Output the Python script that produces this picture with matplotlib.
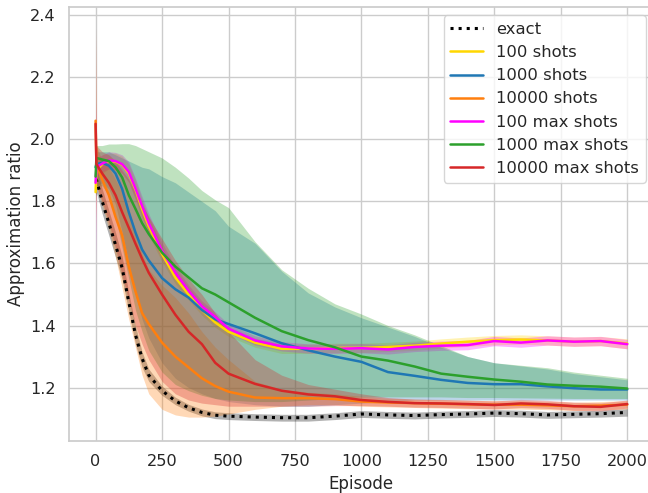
import matplotlib
matplotlib.use("Agg")
import matplotlib.pyplot as plt
import seaborn as sns
import numpy as np

sns.set_theme(style="whitegrid")
plt.rcParams["font.family"] = ["DejaVu Sans"]

# Episode checkpoints shared by every run
episodes = [0, 3, 25, 50, 75, 100, 125, 150, 175, 200, 250, 300, 350, 400, 450,
            500, 600, 700, 800, 900, 1000, 1100, 1200, 1300, 1400, 1500, 1600,
            1700, 1800, 1900, 2000]

labels = ["exact", "100 shots", "1000 shots", "10000 shots",
          "100 max shots", "1000 max shots", "10000 max shots"]
colors = ["black", "#FFD700", "#1f77b4", "#ff7f0e", "#FF00FF", "#2ca02c", "#d62728"]

# Mean approximation ratio per run
exact_mean = [1.87, 1.87, 1.80, 1.73, 1.66, 1.585, 1.475, 1.37, 1.294, 1.24, 1.19, 1.157,
              1.135, 1.12, 1.111, 1.108, 1.105, 1.103, 1.103, 1.108, 1.115, 1.112, 1.110,
              1.113, 1.115, 1.118, 1.116, 1.112, 1.114, 1.116, 1.120]
s100_mean = [1.83, 1.90, 1.92, 1.93, 1.928, 1.918, 1.89, 1.838, 1.775, 1.72, 1.63, 1.555,
             1.50, 1.45, 1.41, 1.38, 1.345, 1.325, 1.325, 1.328, 1.328, 1.331, 1.335,
             1.342, 1.348, 1.353, 1.355, 1.352, 1.348, 1.350, 1.342]
s1000_mean = [1.91, 1.92, 1.925, 1.915, 1.89, 1.84, 1.765, 1.70, 1.645, 1.61, 1.553, 1.517,
              1.49, 1.45, 1.42, 1.405, 1.375, 1.343, 1.32, 1.30, 1.283, 1.25, 1.238,
              1.225, 1.215, 1.211, 1.211, 1.204, 1.198, 1.194, 1.194]
s10000_mean = [2.06, 1.92, 1.87, 1.82, 1.75, 1.69, 1.59, 1.51, 1.44, 1.405, 1.345, 1.30,
               1.265, 1.23, 1.205, 1.187, 1.168, 1.166, 1.166, 1.163, 1.155, 1.152, 1.150,
               1.148, 1.146, 1.145, 1.145, 1.143, 1.140, 1.142, 1.145]
m100_mean = [1.86, 1.91, 1.922, 1.932, 1.93, 1.92, 1.895, 1.842, 1.785, 1.73, 1.641, 1.57,
             1.512, 1.462, 1.428, 1.39, 1.352, 1.333, 1.326, 1.325, 1.327, 1.323, 1.331,
             1.335, 1.337, 1.350, 1.345, 1.352, 1.348, 1.350, 1.340]
m1000_mean = [1.88, 1.94, 1.935, 1.93, 1.91, 1.877, 1.82, 1.776, 1.73, 1.695, 1.635, 1.59,
              1.555, 1.52, 1.50, 1.475, 1.425, 1.382, 1.353, 1.33, 1.30, 1.287, 1.268,
              1.245, 1.235, 1.226, 1.219, 1.210, 1.206, 1.203, 1.197]
m10000_mean = [2.05, 1.92, 1.89, 1.86, 1.82, 1.765, 1.715, 1.664, 1.615, 1.57, 1.50, 1.435,
               1.38, 1.34, 1.28, 1.245, 1.212, 1.19, 1.178, 1.172, 1.160, 1.154, 1.150,
               1.149, 1.147, 1.144, 1.149, 1.146, 1.140, 1.138, 1.147]

# Lower / upper edges of the shaded spread
exact_lo = [1.82, 1.83, 1.76, 1.69, 1.62, 1.548, 1.445, 1.34, 1.265, 1.22, 1.175, 1.145,
            1.124, 1.109, 1.100, 1.097, 1.094, 1.092, 1.092, 1.097, 1.104, 1.101, 1.099,
            1.102, 1.104, 1.107, 1.105, 1.101, 1.103, 1.105, 1.108]
exact_hi = [1.92, 1.91, 1.84, 1.77, 1.70, 1.622, 1.505, 1.40, 1.315, 1.26, 1.205, 1.169,
            1.146, 1.131, 1.122, 1.119, 1.116, 1.114, 1.114, 1.119, 1.126, 1.123, 1.121,
            1.124, 1.126, 1.129, 1.127, 1.123, 1.125, 1.127, 1.132]
s100_lo = [1.70, 1.87, 1.89, 1.905, 1.90, 1.89, 1.86, 1.805, 1.745, 1.69, 1.605, 1.535,
           1.482, 1.433, 1.394, 1.365, 1.330, 1.310, 1.310, 1.313, 1.313, 1.316, 1.320,
           1.327, 1.333, 1.338, 1.340, 1.337, 1.333, 1.335, 1.325]
s100_hi = [1.96, 1.93, 1.95, 1.955, 1.955, 1.945, 1.92, 1.87, 1.805, 1.75, 1.655, 1.575,
           1.518, 1.467, 1.426, 1.395, 1.360, 1.340, 1.340, 1.343, 1.343, 1.346, 1.350,
           1.357, 1.363, 1.368, 1.370, 1.367, 1.363, 1.365, 1.357]
s1000_lo = [1.80, 1.85, 1.86, 1.84, 1.79, 1.70, 1.60, 1.50, 1.42, 1.36, 1.28, 1.23,
            1.20, 1.18, 1.165, 1.155, 1.145, 1.14, 1.14, 1.145, 1.15, 1.155, 1.16,
            1.16, 1.16, 1.16, 1.16, 1.16, 1.16, 1.16, 1.16]
s1000_hi = [1.98, 1.96, 1.96, 1.96, 1.95, 1.94, 1.93, 1.92, 1.91, 1.905, 1.88, 1.86,
            1.83, 1.80, 1.77, 1.72, 1.665, 1.575, 1.505, 1.46, 1.425, 1.395, 1.365,
            1.33, 1.30, 1.28, 1.27, 1.26, 1.245, 1.235, 1.225]
s10000_lo = [1.75, 1.85, 1.79, 1.71, 1.62, 1.52, 1.42, 1.33, 1.24, 1.18, 1.13, 1.112,
             1.105, 1.105, 1.108, 1.115, 1.13, 1.14, 1.145, 1.145, 1.14, 1.138, 1.136,
             1.134, 1.132, 1.131, 1.131, 1.129, 1.126, 1.128, 1.131]
s10000_hi = [2.36, 1.98, 1.93, 1.91, 1.87, 1.83, 1.77, 1.70, 1.63, 1.58, 1.53, 1.49,
             1.44, 1.38, 1.33, 1.29, 1.22, 1.195, 1.185, 1.18, 1.172, 1.166, 1.163,
             1.161, 1.159, 1.158, 1.158, 1.156, 1.153, 1.155, 1.158]
m100_lo = [1.60, 1.88, 1.895, 1.905, 1.902, 1.89, 1.863, 1.81, 1.755, 1.70, 1.615, 1.55,
           1.494, 1.445, 1.412, 1.375, 1.337, 1.318, 1.311, 1.310, 1.312, 1.308, 1.316,
           1.320, 1.322, 1.335, 1.330, 1.337, 1.333, 1.335, 1.325]
m100_hi = [2.12, 1.94, 1.95, 1.96, 1.958, 1.95, 1.927, 1.874, 1.815, 1.76, 1.667, 1.59,
           1.530, 1.479, 1.444, 1.405, 1.367, 1.348, 1.341, 1.340, 1.342, 1.338, 1.346,
           1.350, 1.352, 1.365, 1.360, 1.367, 1.363, 1.365, 1.355]
m1000_lo = [1.80, 1.85, 1.85, 1.82, 1.75, 1.65, 1.55, 1.45, 1.38, 1.32, 1.25, 1.21,
            1.19, 1.175, 1.165, 1.16, 1.155, 1.155, 1.16, 1.165, 1.17, 1.17, 1.17,
            1.17, 1.168, 1.168, 1.167, 1.166, 1.165, 1.165, 1.165]
m1000_hi = [1.96, 1.98, 1.98, 1.985, 1.985, 1.986, 1.986, 1.98, 1.97, 1.96, 1.94, 1.91,
            1.875, 1.835, 1.805, 1.78, 1.67, 1.58, 1.52, 1.47, 1.437, 1.40, 1.37,
            1.335, 1.30, 1.28, 1.272, 1.264, 1.25, 1.24, 1.23]
m10000_lo = [1.85, 1.85, 1.80, 1.73, 1.65, 1.56, 1.48, 1.40, 1.34, 1.29, 1.22, 1.18,
             1.16, 1.15, 1.145, 1.14, 1.14, 1.14, 1.14, 1.142, 1.142, 1.140, 1.137,
             1.136, 1.134, 1.131, 1.136, 1.133, 1.127, 1.125, 1.134]
m10000_hi = [2.36, 1.98, 1.96, 1.95, 1.93, 1.90, 1.87, 1.83, 1.79, 1.75, 1.68, 1.61,
             1.55, 1.50, 1.44, 1.38, 1.29, 1.24, 1.21, 1.195, 1.18, 1.168, 1.163,
             1.162, 1.160, 1.157, 1.162, 1.159, 1.153, 1.151, 1.160]

means = [exact_mean, s100_mean, s1000_mean, s10000_mean, m100_mean, m1000_mean, m10000_mean]
lows = [exact_lo, s100_lo, s1000_lo, s10000_lo, m100_lo, m1000_lo, m10000_lo]
highs = [exact_hi, s100_hi, s1000_hi, s10000_hi, m100_hi, m1000_hi, m10000_hi]

fig = plt.figure(figsize=(6.48, 4.93), dpi=100)
ax = fig.add_axes([0.1065, 0.1055, 0.9025, 0.880])

for label, color, mu, lo, hi in zip(labels, colors, means, lows, highs):
    ax.fill_between(episodes, lo, hi, color=color, alpha=0.3, linewidth=0)
    if label == "exact":
        ax.plot(episodes, mu, color=color, linestyle=":", linewidth=2.2, label=label)
    else:
        ax.plot(episodes, mu, color=color, linewidth=1.8, label=label)

ax.set_xlim(-100, 2100)
ax.set_ylim(1.028, 2.426)
ax.set_xticks([0, 250, 500, 750, 1000, 1250, 1500, 1750, 2000])
ax.set_yticks([1.2, 1.4, 1.6, 1.8, 2.0, 2.2, 2.4])
ax.tick_params(labelsize=11.6)
ax.set_xlabel("Episode", fontsize=12)
ax.set_ylabel("Approximation ratio", fontsize=12)
ax.legend(loc="upper right", fontsize=11.8, borderaxespad=0.5)

fig.savefig("out.png", dpi=100)
